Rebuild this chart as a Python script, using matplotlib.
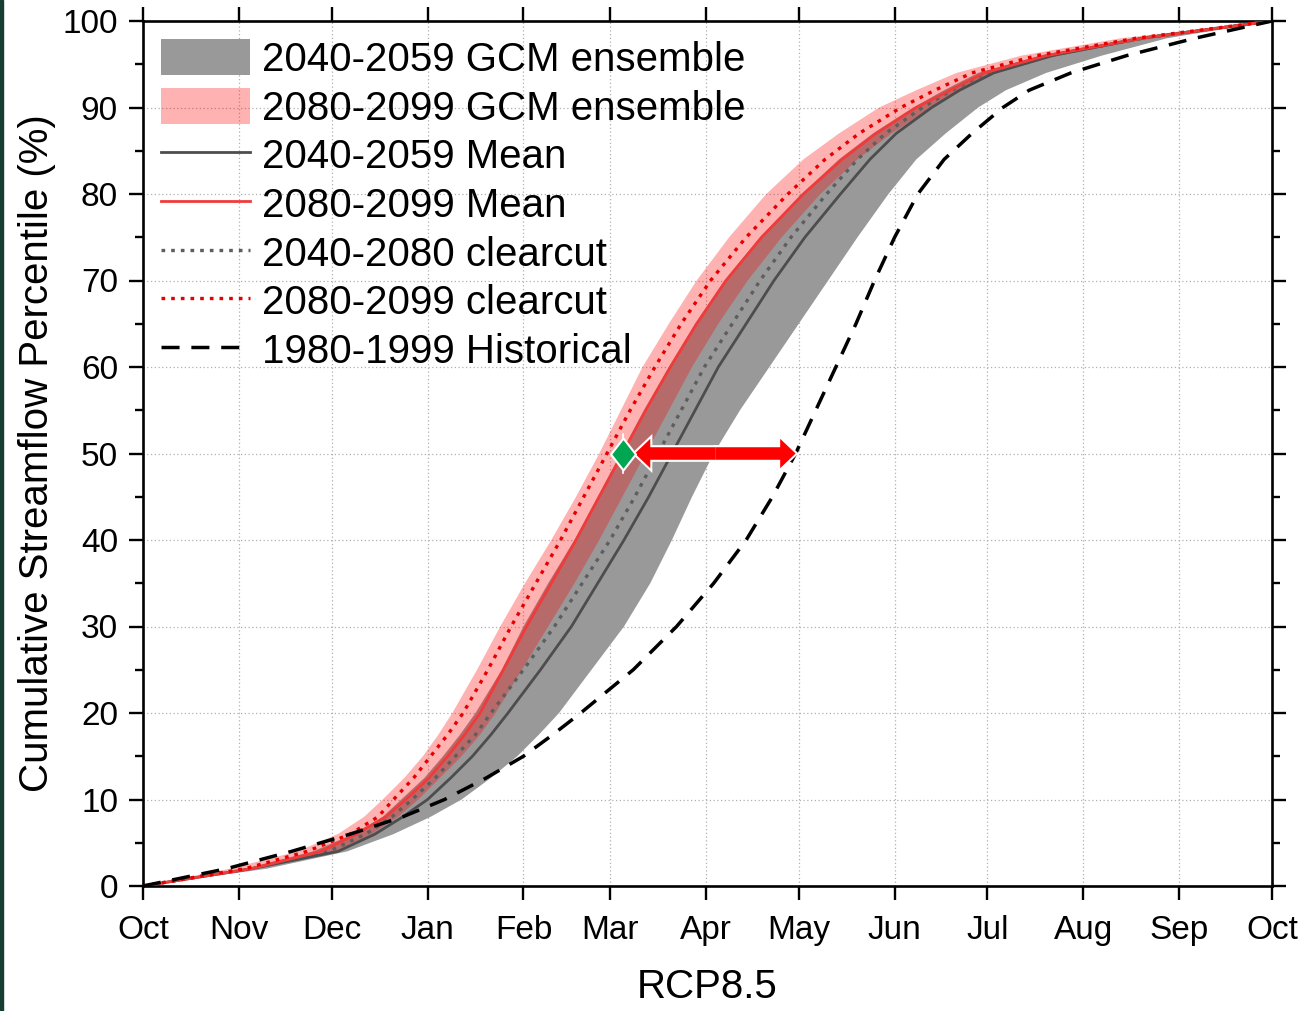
import matplotlib
matplotlib.use("Agg")
import matplotlib.pyplot as plt
from matplotlib.patches import FancyArrow, Rectangle
from matplotlib.ticker import MultipleLocator, FixedLocator

plt.rcParams['font.family'] = ['Liberation Sans', 'DejaVu Sans']

# Water-year calendar: day of year (from 1 Oct) at which each month starts
month_labels = ['Oct', 'Nov', 'Dec', 'Jan', 'Feb', 'Mar', 'Apr', 'May', 'Jun',
                'Jul', 'Aug', 'Sep', 'Oct']
month_start_days = [0, 31, 61, 92, 123, 151, 182, 212, 243, 273, 304, 335, 365]

# Cumulative streamflow percentiles and the water-year day each one is reached
pct_levels = [0, 2, 4, 6, 8, 10, 12.5, 15, 17.5, 20, 25, 30, 35, 40, 45, 50,
              55, 60, 65, 70, 75, 80, 84, 87, 90, 92, 94, 96, 98, 100]

hist_days = [0, 27, 48, 67, 84, 97.5, 111, 123, 132.5, 141.5, 158.5, 172.5, 184.5,
             195, 203.5, 211, 217.5, 224, 230.5, 236.5, 243, 250.5, 259, 268,
             278, 286.5, 300, 318, 340, 365]

mid_mean_days = [0, 35, 63, 75, 84, 92, 99.5, 106.5, 112.5, 118, 128.5, 138.5, 147,
                 155.5, 163.5, 171, 178.5, 186, 195, 204, 214, 225.5, 235, 243.5,
                 255, 264, 275, 294, 323, 365]

late_mean_days = [0, 35, 57.5, 69, 78.5, 85, 92.5, 98.5, 104, 109, 116.5, 124,
                  132, 140, 147.5, 155, 162.5, 170.5, 179, 188.5, 200, 213.5,
                  226, 237, 250, 261, 272, 292, 323, 365]

mid_clearcut_days = [0, 34, 60, 72, 80.5, 87, 94.5, 101, 107.5, 112.5, 123, 133,
                     142, 151, 159, 166.5, 174, 181.5, 190.5, 199.5, 209.5, 221,
                     231, 240, 252, 261.5, 272.5, 293, 323, 365]

late_clearcut_days = [0, 33, 53, 67, 76, 81, 87.5, 93, 98.5, 103.5, 111.5, 119,
                      127, 135, 142.5, 150, 157.5, 165.5, 174, 183.5, 195, 208.5,
                      220.5, 231.5, 245, 256, 268, 289, 321, 365]

# GCM ensemble envelopes (early and late edges in days)
mid_ens_early = [0, 33, 55, 68, 77.5, 83.5, 91, 97, 102.5, 107.5, 116, 123, 131,
                 139.5, 147, 154.5, 162, 170, 178.5, 188, 199.5, 213, 225, 236,
                 249, 259, 270, 290, 321, 365]
mid_ens_late = [0, 40, 66, 81, 93, 103, 112.5, 121, 128, 134.5, 145, 155.5, 164,
                171, 177.5, 184.5, 193, 202.5, 212, 221.5, 231, 241, 250, 259.5,
                270, 279, 292, 310, 331, 365]

late_ens_early = [0, 28, 50, 63, 71.5, 77.5, 84.5, 90.5, 95.5, 100, 108, 115.5,
                  123.5, 132, 140, 147.5, 154.5, 161.5, 170, 179, 189.5, 201.5,
                  213.5, 225, 238, 250, 263, 284, 316, 365]
late_ens_late = [0, 35, 62, 74, 82.5, 89, 96, 103, 109, 114, 122.5, 131, 139.5,
                 147.5, 155, 162.5, 170, 177.5, 186, 195.5, 206.5, 219, 231, 242,
                 255, 265, 276, 296, 325, 365]

# Timing shift at the 50th percentile
shift_pct = 50
shift_marker_day = 155.3
shift_arrow_start = 159.0
shift_arrow_end = 211.0

fig = plt.figure(figsize=(13.07, 10.11), dpi=100)
ax = fig.add_axes([143 / 1307, 1 - 886 / 1011, (1272 - 143) / 1307, (886 - 21) / 1011])

fig.patches.append(Rectangle((0, 0), 2.5 / 1307, 1, transform=fig.transFigure,
                             color='#163d32', zorder=10))

h_mid_ens = ax.fill_betweenx(pct_levels, mid_ens_early, mid_ens_late,
                             facecolor='#999999', edgecolor='none', lw=0, zorder=1)
h_late_ens = ax.fill_betweenx(pct_levels, late_ens_early, late_ens_late,
                              facecolor=(1, 0, 0, 0.3), edgecolor='none', lw=0, zorder=2)

dot = (0, (1.1, 1.8))
h_mid_clear, = ax.plot(mid_clearcut_days, pct_levels, color='#5e5e5e', lw=2.4,
                       ls=dot, zorder=3)
h_mid_mean, = ax.plot(mid_mean_days, pct_levels, color='#4d4d4d', lw=2.0, zorder=4)
h_late_mean, = ax.plot(late_mean_days, pct_levels, color='#ef3b3b', lw=2.0, zorder=4)
h_late_clear, = ax.plot(late_clearcut_days, pct_levels, color='#e60000', lw=2.4,
                        ls=dot, zorder=5)
h_hist, = ax.plot(hist_days, pct_levels, color='black', lw=2.5,
                  ls=(0, (5.2, 3.4)), zorder=6)

# Double-headed shift arrow (drawn as two halves from the middle)
mid_day = 0.5 * (shift_arrow_start + shift_arrow_end)
arrow_kw = dict(width=1.45, head_width=3.4, head_length=5.0,
                length_includes_head=True)
for layer, (fc, ec, lw) in enumerate([('red', 'white', 3.0), ('red', 'none', 0)]):
    for end in (shift_arrow_start, shift_arrow_end):
        ax.add_patch(FancyArrow(mid_day, shift_pct, end - mid_day, 0,
                                facecolor=fc, edgecolor=ec, lw=lw,
                                zorder=7 + layer, **arrow_kw))

ax.plot([shift_marker_day, shift_marker_day], [shift_pct - 2.2, shift_pct + 2.2],
        color='white', lw=1.2, zorder=9)
diamond = [(0, 1), (0.78, 0), (0, -1), (-0.78, 0), (0, 1)]
ax.plot([shift_marker_day], [shift_pct], marker=diamond, ms=23,
        mfc='#00a651', mec='white', mew=1.5, ls='none', zorder=10)

ax.set_xlim(0, 365)
ax.set_ylim(0, 100)
ax.xaxis.set_major_locator(FixedLocator(month_start_days))
ax.set_xticklabels(month_labels)
ax.yaxis.set_major_locator(MultipleLocator(10))
ax.yaxis.set_minor_locator(MultipleLocator(5))

ax.grid(True, which='major', color='#b0b0b0', ls=(0, (1, 2)), lw=0.9, zorder=0)
ax.set_axisbelow(True)

for s in ax.spines.values():
    s.set_linewidth(1.9)
ax.tick_params(axis='both', which='major', direction='out', length=10, width=1.7,
               labelsize=24, top=True, right=True)
ax.tick_params(axis='both', which='minor', direction='out', length=5.5, width=1.7,
               top=False, right=True)
ax.tick_params(axis='x', which='major', pad=11)
ax.tick_params(axis='y', which='major', pad=8)

ax.set_xlabel('RCP8.5', fontsize=29, labelpad=16)
ax.set_ylabel('Cumulative Streamflow Percentile (%)', fontsize=29, labelpad=5)

handles = [h_mid_ens, h_late_ens, h_mid_mean, h_late_mean, h_mid_clear,
           h_late_clear, h_hist]
labels = ['2040-2059 GCM ensemble', '2080-2099 GCM ensemble', '2040-2059 Mean',
          '2080-2099 Mean', '2040-2080 clearcut', '2080-2099 clearcut',
          '1980-1999 Historical']
ax.legend(handles, labels, loc='upper left', bbox_to_anchor=(0.0, 1.0),
          frameon=False, fontsize=29, handlelength=2.2, handleheight=1.0,
          handletextpad=0.3, labelspacing=0.22, borderaxespad=0.15,
          borderpad=0.3)

fig.savefig('out.png', dpi=100)
